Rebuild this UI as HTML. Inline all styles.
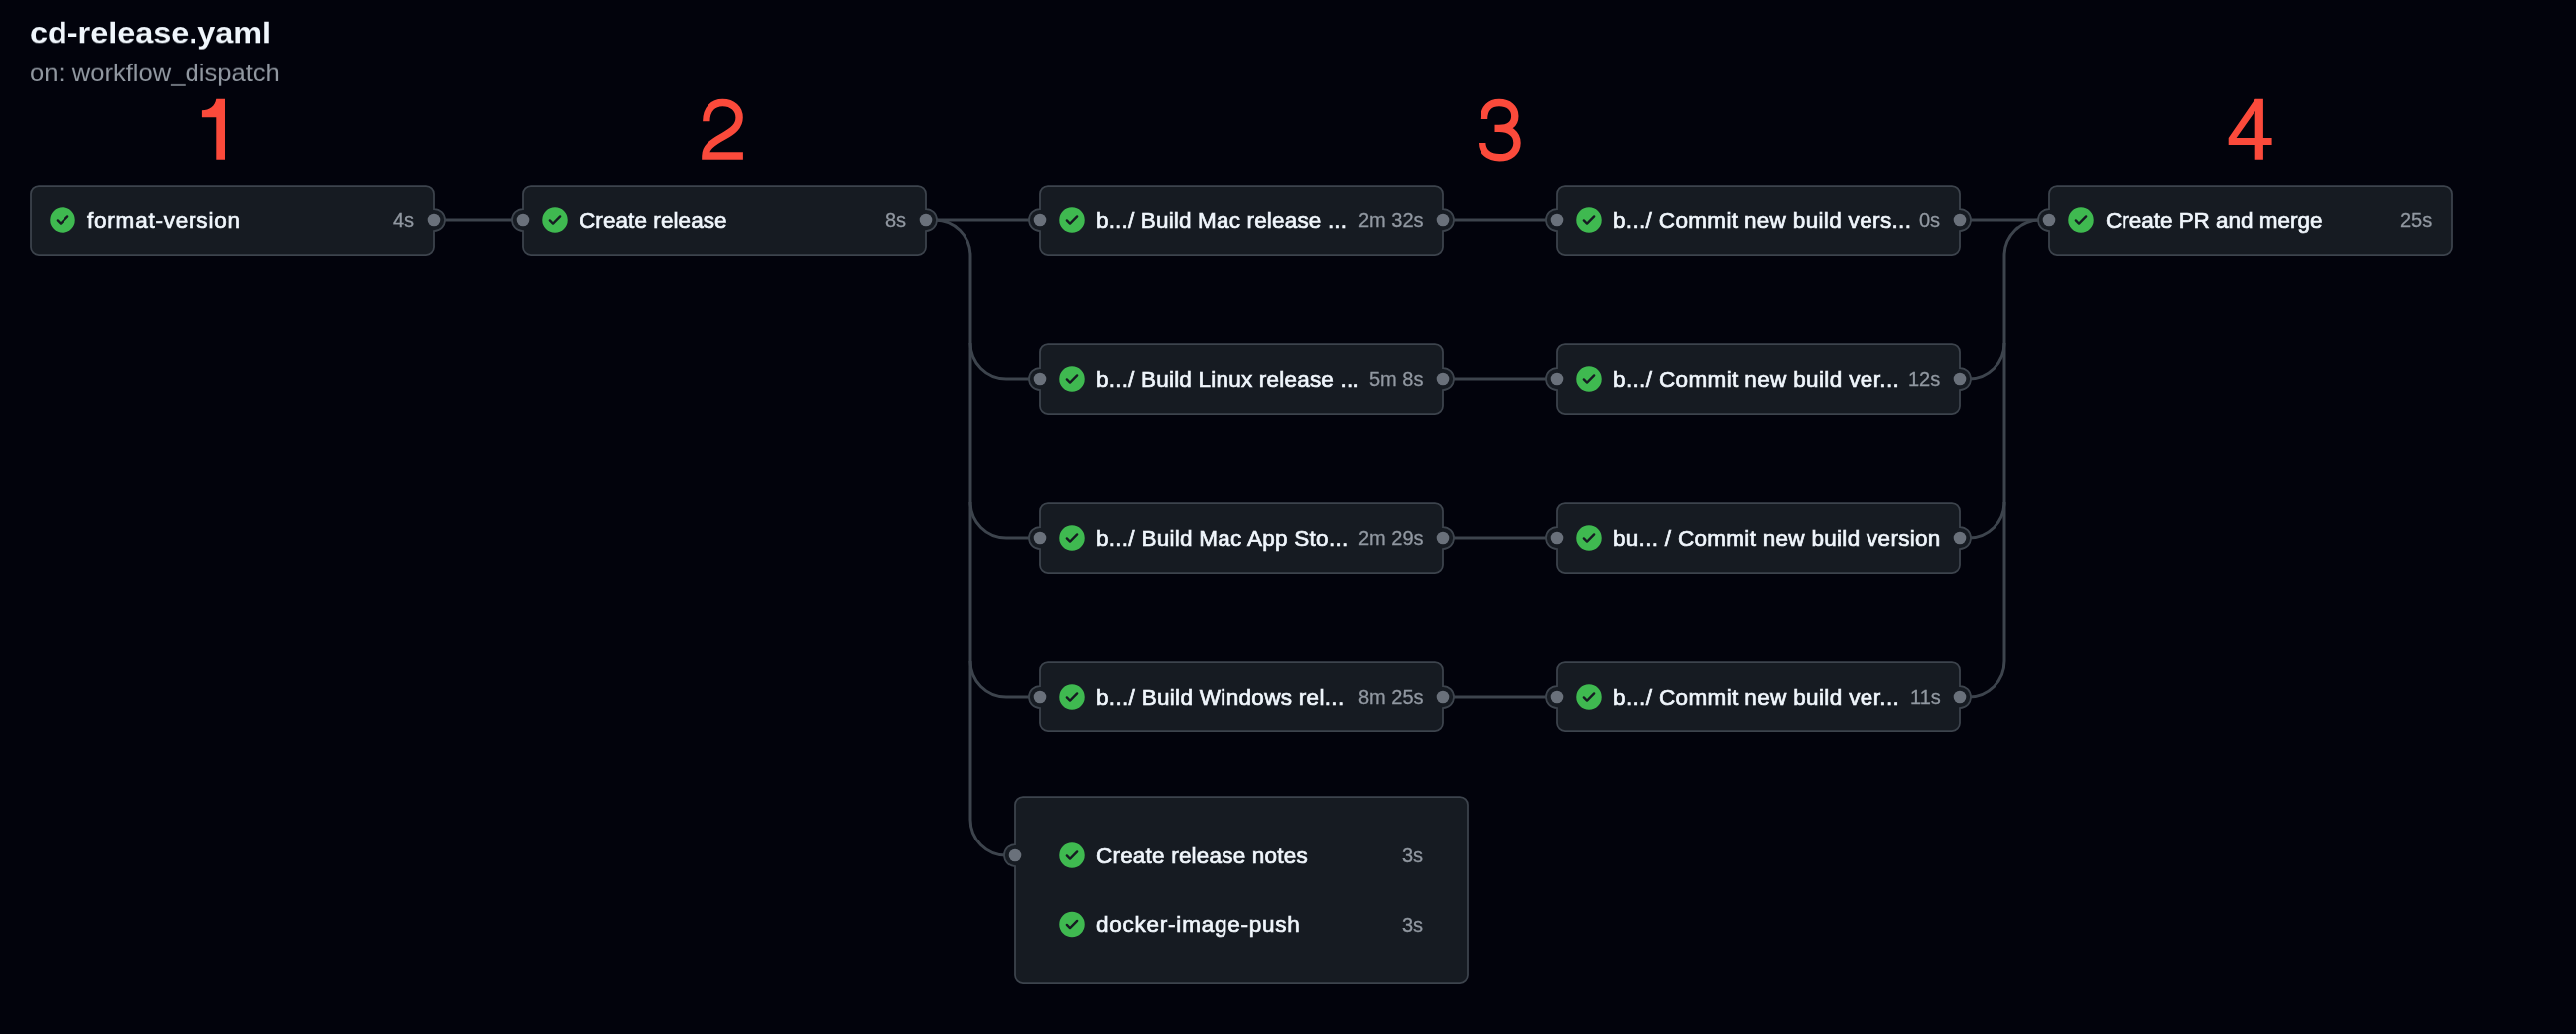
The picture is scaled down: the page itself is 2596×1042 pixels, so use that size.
<!DOCTYPE html>
<html><head><meta charset="utf-8"><style>
html,body{margin:0;padding:0;background:#02030c;width:2596px;height:1042px;overflow:hidden;}
body{position:relative;font-family:"Liberation Sans",sans-serif;}
svg{position:absolute;left:0;top:0;}
.t{position:absolute;white-space:pre;line-height:1;will-change:transform;}
.jt{font-weight:normal;font-size:22.5px;color:#f0f6fc;-webkit-text-stroke:0.7px #f0f6fc;}
.du{font-size:20px;color:#9198a1;text-align:right;-webkit-text-stroke:0.3px #9198a1;}
.num{font-size:85px;color:#fb4a3b;}
</style></head><body>
<svg width="2596" height="1042" viewBox="0 0 2596 1042">
<path d="M437,222 H527" fill="none" stroke="#3d444d" stroke-width="3"/>
<path d="M933,222 H1048" fill="none" stroke="#3d444d" stroke-width="3"/>
<path d="M1454,222 H1569" fill="none" stroke="#3d444d" stroke-width="3"/>
<path d="M1454,382 H1569" fill="none" stroke="#3d444d" stroke-width="3"/>
<path d="M1454,542 H1569" fill="none" stroke="#3d444d" stroke-width="3"/>
<path d="M1454,702 H1569" fill="none" stroke="#3d444d" stroke-width="3"/>
<path d="M1975,222 H2065" fill="none" stroke="#3d444d" stroke-width="3"/>
<path d="M933,222 H942 A36,36 0 0 1 978,258 V826 A36,36 0 0 0 1014,862 H1023" fill="none" stroke="#3d444d" stroke-width="3"/>
<path d="M978,346 A36,36 0 0 0 1014,382 H1048" fill="none" stroke="#3d444d" stroke-width="3"/>
<path d="M978,506 A36,36 0 0 0 1014,542 H1048" fill="none" stroke="#3d444d" stroke-width="3"/>
<path d="M978,666 A36,36 0 0 0 1014,702 H1048" fill="none" stroke="#3d444d" stroke-width="3"/>
<path d="M2065,222 H2056 A36,36 0 0 0 2020,258 V666 A36,36 0 0 1 1984,702 H1975" fill="none" stroke="#3d444d" stroke-width="3"/>
<path d="M2020,346 A36,36 0 0 1 1984,382 H1975" fill="none" stroke="#3d444d" stroke-width="3"/>
<path d="M2020,506 A36,36 0 0 1 1984,542 H1975" fill="none" stroke="#3d444d" stroke-width="3"/>
<path d="M39,187 H429 A8,8 0 0 1 437,195 V211.0 A11,11 0 0 1 437,233.0 V249 A8,8 0 0 1 429,257 H39 A8,8 0 0 1 31,249 V195 A8,8 0 0 1 39,187 Z" fill="#161b22" stroke="#3d444d" stroke-width="1.75"/>
<path d="M535,187 H925 A8,8 0 0 1 933,195 V211.0 A11,11 0 0 1 933,233.0 V249 A8,8 0 0 1 925,257 H535 A8,8 0 0 1 527,249 V233.0 A11,11 0 0 1 527,211.0 V195 A8,8 0 0 1 535,187 Z" fill="#161b22" stroke="#3d444d" stroke-width="1.75"/>
<path d="M1056,187 H1446 A8,8 0 0 1 1454,195 V211.0 A11,11 0 0 1 1454,233.0 V249 A8,8 0 0 1 1446,257 H1056 A8,8 0 0 1 1048,249 V233.0 A11,11 0 0 1 1048,211.0 V195 A8,8 0 0 1 1056,187 Z" fill="#161b22" stroke="#3d444d" stroke-width="1.75"/>
<path d="M1056,347 H1446 A8,8 0 0 1 1454,355 V371.0 A11,11 0 0 1 1454,393.0 V409 A8,8 0 0 1 1446,417 H1056 A8,8 0 0 1 1048,409 V393.0 A11,11 0 0 1 1048,371.0 V355 A8,8 0 0 1 1056,347 Z" fill="#161b22" stroke="#3d444d" stroke-width="1.75"/>
<path d="M1056,507 H1446 A8,8 0 0 1 1454,515 V531.0 A11,11 0 0 1 1454,553.0 V569 A8,8 0 0 1 1446,577 H1056 A8,8 0 0 1 1048,569 V553.0 A11,11 0 0 1 1048,531.0 V515 A8,8 0 0 1 1056,507 Z" fill="#161b22" stroke="#3d444d" stroke-width="1.75"/>
<path d="M1056,667 H1446 A8,8 0 0 1 1454,675 V691.0 A11,11 0 0 1 1454,713.0 V729 A8,8 0 0 1 1446,737 H1056 A8,8 0 0 1 1048,729 V713.0 A11,11 0 0 1 1048,691.0 V675 A8,8 0 0 1 1056,667 Z" fill="#161b22" stroke="#3d444d" stroke-width="1.75"/>
<path d="M1577,187 H1967 A8,8 0 0 1 1975,195 V211.0 A11,11 0 0 1 1975,233.0 V249 A8,8 0 0 1 1967,257 H1577 A8,8 0 0 1 1569,249 V233.0 A11,11 0 0 1 1569,211.0 V195 A8,8 0 0 1 1577,187 Z" fill="#161b22" stroke="#3d444d" stroke-width="1.75"/>
<path d="M1577,347 H1967 A8,8 0 0 1 1975,355 V371.0 A11,11 0 0 1 1975,393.0 V409 A8,8 0 0 1 1967,417 H1577 A8,8 0 0 1 1569,409 V393.0 A11,11 0 0 1 1569,371.0 V355 A8,8 0 0 1 1577,347 Z" fill="#161b22" stroke="#3d444d" stroke-width="1.75"/>
<path d="M1577,507 H1967 A8,8 0 0 1 1975,515 V531.0 A11,11 0 0 1 1975,553.0 V569 A8,8 0 0 1 1967,577 H1577 A8,8 0 0 1 1569,569 V553.0 A11,11 0 0 1 1569,531.0 V515 A8,8 0 0 1 1577,507 Z" fill="#161b22" stroke="#3d444d" stroke-width="1.75"/>
<path d="M1577,667 H1967 A8,8 0 0 1 1975,675 V691.0 A11,11 0 0 1 1975,713.0 V729 A8,8 0 0 1 1967,737 H1577 A8,8 0 0 1 1569,729 V713.0 A11,11 0 0 1 1569,691.0 V675 A8,8 0 0 1 1577,667 Z" fill="#161b22" stroke="#3d444d" stroke-width="1.75"/>
<path d="M2073,187 H2463 A8,8 0 0 1 2471,195 V249 A8,8 0 0 1 2463,257 H2073 A8,8 0 0 1 2065,249 V233.0 A11,11 0 0 1 2065,211.0 V195 A8,8 0 0 1 2073,187 Z" fill="#161b22" stroke="#3d444d" stroke-width="1.75"/>
<path d="M1031,803 H1471 A8,8 0 0 1 1479,811 V983 A8,8 0 0 1 1471,991 H1031 A8,8 0 0 1 1023,983 V873 A11,11 0 0 1 1023,851 V811 A8,8 0 0 1 1031,803 Z" fill="#161b22" stroke="#3d444d" stroke-width="1.75"/>
<circle cx="437" cy="222.0" r="6.3" fill="#6a717b"/>
<circle cx="527" cy="222.0" r="6.3" fill="#6a717b"/>
<circle cx="933" cy="222.0" r="6.3" fill="#6a717b"/>
<circle cx="1048" cy="222.0" r="6.3" fill="#6a717b"/>
<circle cx="1454" cy="222.0" r="6.3" fill="#6a717b"/>
<circle cx="1048" cy="382.0" r="6.3" fill="#6a717b"/>
<circle cx="1454" cy="382.0" r="6.3" fill="#6a717b"/>
<circle cx="1048" cy="542.0" r="6.3" fill="#6a717b"/>
<circle cx="1454" cy="542.0" r="6.3" fill="#6a717b"/>
<circle cx="1048" cy="702.0" r="6.3" fill="#6a717b"/>
<circle cx="1454" cy="702.0" r="6.3" fill="#6a717b"/>
<circle cx="1569" cy="222.0" r="6.3" fill="#6a717b"/>
<circle cx="1975" cy="222.0" r="6.3" fill="#6a717b"/>
<circle cx="1569" cy="382.0" r="6.3" fill="#6a717b"/>
<circle cx="1975" cy="382.0" r="6.3" fill="#6a717b"/>
<circle cx="1569" cy="542.0" r="6.3" fill="#6a717b"/>
<circle cx="1975" cy="542.0" r="6.3" fill="#6a717b"/>
<circle cx="1569" cy="702.0" r="6.3" fill="#6a717b"/>
<circle cx="1975" cy="702.0" r="6.3" fill="#6a717b"/>
<circle cx="2065" cy="222.0" r="6.3" fill="#6a717b"/>
<circle cx="1023" cy="862" r="6.3" fill="#6a717b"/>
<path transform="translate(50.25,209.25) scale(1.5938)" d="M8 16A8 8 0 1 1 8 0a8 8 0 0 1 0 16Zm3.78-9.72a.751.751 0 0 0-.018-1.042.751.751 0 0 0-1.042-.018L6.75 9.19 5.28 7.72a.751.751 0 0 0-1.042.018.751.751 0 0 0-.018 1.042l2 2a.75.75 0 0 0 1.06 0Z" fill="#3fb950"/>
<path transform="translate(546.25,209.25) scale(1.5938)" d="M8 16A8 8 0 1 1 8 0a8 8 0 0 1 0 16Zm3.78-9.72a.751.751 0 0 0-.018-1.042.751.751 0 0 0-1.042-.018L6.75 9.19 5.28 7.72a.751.751 0 0 0-1.042.018.751.751 0 0 0-.018 1.042l2 2a.75.75 0 0 0 1.06 0Z" fill="#3fb950"/>
<path transform="translate(1067.25,209.25) scale(1.5938)" d="M8 16A8 8 0 1 1 8 0a8 8 0 0 1 0 16Zm3.78-9.72a.751.751 0 0 0-.018-1.042.751.751 0 0 0-1.042-.018L6.75 9.19 5.28 7.72a.751.751 0 0 0-1.042.018.751.751 0 0 0-.018 1.042l2 2a.75.75 0 0 0 1.06 0Z" fill="#3fb950"/>
<path transform="translate(1067.25,369.25) scale(1.5938)" d="M8 16A8 8 0 1 1 8 0a8 8 0 0 1 0 16Zm3.78-9.72a.751.751 0 0 0-.018-1.042.751.751 0 0 0-1.042-.018L6.75 9.19 5.28 7.72a.751.751 0 0 0-1.042.018.751.751 0 0 0-.018 1.042l2 2a.75.75 0 0 0 1.06 0Z" fill="#3fb950"/>
<path transform="translate(1067.25,529.25) scale(1.5938)" d="M8 16A8 8 0 1 1 8 0a8 8 0 0 1 0 16Zm3.78-9.72a.751.751 0 0 0-.018-1.042.751.751 0 0 0-1.042-.018L6.75 9.19 5.28 7.72a.751.751 0 0 0-1.042.018.751.751 0 0 0-.018 1.042l2 2a.75.75 0 0 0 1.06 0Z" fill="#3fb950"/>
<path transform="translate(1067.25,689.25) scale(1.5938)" d="M8 16A8 8 0 1 1 8 0a8 8 0 0 1 0 16Zm3.78-9.72a.751.751 0 0 0-.018-1.042.751.751 0 0 0-1.042-.018L6.75 9.19 5.28 7.72a.751.751 0 0 0-1.042.018.751.751 0 0 0-.018 1.042l2 2a.75.75 0 0 0 1.06 0Z" fill="#3fb950"/>
<path transform="translate(1588.25,209.25) scale(1.5938)" d="M8 16A8 8 0 1 1 8 0a8 8 0 0 1 0 16Zm3.78-9.72a.751.751 0 0 0-.018-1.042.751.751 0 0 0-1.042-.018L6.75 9.19 5.28 7.72a.751.751 0 0 0-1.042.018.751.751 0 0 0-.018 1.042l2 2a.75.75 0 0 0 1.06 0Z" fill="#3fb950"/>
<path transform="translate(1588.25,369.25) scale(1.5938)" d="M8 16A8 8 0 1 1 8 0a8 8 0 0 1 0 16Zm3.78-9.72a.751.751 0 0 0-.018-1.042.751.751 0 0 0-1.042-.018L6.75 9.19 5.28 7.72a.751.751 0 0 0-1.042.018.751.751 0 0 0-.018 1.042l2 2a.75.75 0 0 0 1.06 0Z" fill="#3fb950"/>
<path transform="translate(1588.25,529.25) scale(1.5938)" d="M8 16A8 8 0 1 1 8 0a8 8 0 0 1 0 16Zm3.78-9.72a.751.751 0 0 0-.018-1.042.751.751 0 0 0-1.042-.018L6.75 9.19 5.28 7.72a.751.751 0 0 0-1.042.018.751.751 0 0 0-.018 1.042l2 2a.75.75 0 0 0 1.06 0Z" fill="#3fb950"/>
<path transform="translate(1588.25,689.25) scale(1.5938)" d="M8 16A8 8 0 1 1 8 0a8 8 0 0 1 0 16Zm3.78-9.72a.751.751 0 0 0-.018-1.042.751.751 0 0 0-1.042-.018L6.75 9.19 5.28 7.72a.751.751 0 0 0-1.042.018.751.751 0 0 0-.018 1.042l2 2a.75.75 0 0 0 1.06 0Z" fill="#3fb950"/>
<path transform="translate(2084.25,209.25) scale(1.5938)" d="M8 16A8 8 0 1 1 8 0a8 8 0 0 1 0 16Zm3.78-9.72a.751.751 0 0 0-.018-1.042.751.751 0 0 0-1.042-.018L6.75 9.19 5.28 7.72a.751.751 0 0 0-1.042.018.751.751 0 0 0-.018 1.042l2 2a.75.75 0 0 0 1.06 0Z" fill="#3fb950"/>
<path transform="translate(1067.25,849.25) scale(1.5938)" d="M8 16A8 8 0 1 1 8 0a8 8 0 0 1 0 16Zm3.78-9.72a.751.751 0 0 0-.018-1.042.751.751 0 0 0-1.042-.018L6.75 9.19 5.28 7.72a.751.751 0 0 0-1.042.018.751.751 0 0 0-.018 1.042l2 2a.75.75 0 0 0 1.06 0Z" fill="#3fb950"/>
<path transform="translate(1067.25,918.75) scale(1.5938)" d="M8 16A8 8 0 1 1 8 0a8 8 0 0 1 0 16Zm3.78-9.72a.751.751 0 0 0-.018-1.042.751.751 0 0 0-1.042-.018L6.75 9.19 5.28 7.72a.751.751 0 0 0-1.042.018.751.751 0 0 0-.018 1.042l2 2a.75.75 0 0 0 1.06 0Z" fill="#3fb950"/>
<path fill="#fb4a3b" d="M218.3,99.8 H227 V160.7 H218.3 V118.2 H203.9 V111.3 C211.5,111.1 217,107.5 218.3,99.8 Z"/>
<path fill="none" stroke="#fb4a3b" stroke-width="7.4" stroke-linejoin="miter" d="M711.8,122.2 C711.8,110 719,103.5 728.3,103.5 C738.5,103.5 745.1,110 745.1,118.5 C745.1,127 739,132 729,137.5 C717,144 711,149 710.9,157 H748.9"/>
<path fill="none" stroke="#fb4a3b" stroke-width="7.4" d="M1495.5,120 C1495.5,109 1502,103.5 1511,103.5 C1520.5,103.5 1526.8,109 1526.8,117 C1526.8,125 1521,129.4 1511,129.4 H1506.5 M1511,129.4 C1522,129.4 1529,135 1529,144 C1529,153 1521.5,158.8 1511.3,158.8 C1500,158.8 1493.7,152.5 1493.7,144"/>
<path fill="#fb4a3b" fill-rule="evenodd" d="M2272.7,99.8 H2280.9 V139 H2289.6 V146 H2280.9 V160.7 H2272.7 V146 H2245.7 V139 Z M2272.7,112 L2253.6,139 H2272.7 Z"/>
</svg>

<div class="t" style="left:30px;top:18.92px;font-weight:bold;font-size:32.4px;color:#f0f6fc;transform:scaleY(0.9);transform-origin:0 0;">cd-release.yaml</div>
<div class="t" style="left:30px;top:61.91px;font-size:25.6px;color:#9198a1;transform:scaleY(0.95);transform-origin:0 0;">on: workflow_dispatch</div>
<div class="t du" style="right:2178.5px;top:212.07px;">4s</div>
<div class="t du" style="right:1682.5px;top:212.07px;">8s</div>
<div class="t du" style="right:1161.5px;top:212.07px;">2m 32s</div>
<div class="t du" style="right:1161.5px;top:372.07px;">5m 8s</div>
<div class="t du" style="right:1161.5px;top:532.07px;">2m 29s</div>
<div class="t du" style="right:1161.5px;top:692.07px;">8m 25s</div>
<div class="t du" style="right:640.5px;top:212.07px;">0s</div>
<div class="t du" style="right:640.5px;top:372.07px;">12s</div>
<div class="t du" style="right:640.5px;top:692.07px;">11s</div>
<div class="t du" style="right:144.5px;top:212.07px;">25s</div>
<div class="t du" style="right:1162px;top:852.07px;">3s</div>
<div class="t du" style="right:1162px;top:921.57px;">3s</div>
<div class="t jt" style="left:88px;top:211.75px;letter-spacing:0.785px;">format-version</div>
<div class="t jt" style="left:584px;top:211.75px;letter-spacing:0.077px;">Create release</div>
<div class="t jt" style="left:1105px;top:211.75px;letter-spacing:0.169px;">b.../ Build Mac release ...</div>
<div class="t jt" style="left:1105px;top:371.75px;letter-spacing:0.207px;">b.../ Build Linux release ...</div>
<div class="t jt" style="left:1105px;top:531.75px;letter-spacing:0.272px;">b.../ Build Mac App Sto...</div>
<div class="t jt" style="left:1105px;top:691.75px;letter-spacing:0.312px;">b.../ Build Windows rel...</div>
<div class="t jt" style="left:1626px;top:211.75px;letter-spacing:0.338px;">b.../ Commit new build vers...</div>
<div class="t jt" style="left:1626px;top:371.75px;letter-spacing:0.364px;">b.../ Commit new build ver...</div>
<div class="t jt" style="left:1626px;top:531.75px;letter-spacing:0.297px;">bu... / Commit new build version</div>
<div class="t jt" style="left:1626px;top:691.75px;letter-spacing:0.364px;">b.../ Commit new build ver...</div>
<div class="t jt" style="left:2122px;top:211.75px;letter-spacing:-0.022px;">Create PR and merge</div>
<div class="t jt" style="left:1105px;top:851.75px;letter-spacing:0.200px;">Create release notes</div>
<div class="t jt" style="left:1105px;top:921.25px;letter-spacing:0.763px;">docker-image-push</div>
</body></html>
